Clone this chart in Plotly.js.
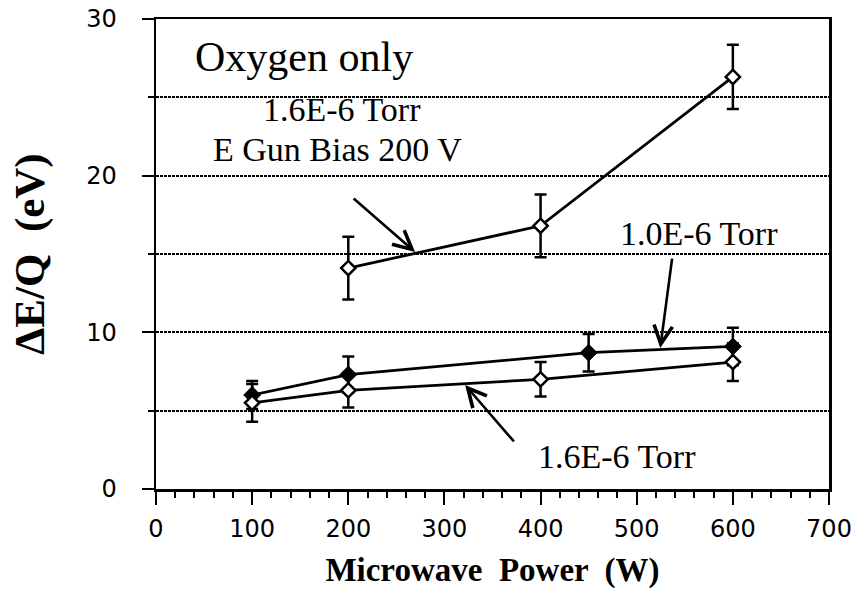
<!DOCTYPE html>
<html>
<head>
<meta charset="utf-8">
<script src="https://cdn.plot.ly/plotly-3.0.1.min.js"></script>
<style>html,body{margin:0;padding:0;background:#fff;}#chart{width:864px;height:598px;}</style>
</head>
<body>
<div id="chart"></div>
<script>
// Series: 1.6E-6 Torr, E Gun Bias 200 V (open diamonds)
const powerBias = [200, 400, 600];
const energyBias = [14.1, 16.8, 26.3];
const errBias = [2.0, 2.0, 2.05];

// Series: 1.0E-6 Torr (filled diamonds)
const power10 = [100, 200, 450, 600];
const energy10 = [6.0, 7.3, 8.7, 9.1];
const err10 = [0.9, 1.15, 1.2, 1.2];

// Series: 1.6E-6 Torr (open diamonds)
const power16 = [100, 200, 400, 600];
const energy16 = [5.5, 6.3, 7.0, 8.1];
const err16 = [1.2, 1.1, 1.1, 1.2];

const xTicks = [0, 100, 200, 300, 400, 500, 600, 700];
const yTicks = [0, 10, 20, 30];

const labelText = ["Oxygen only", "1.6E-6 Torr", "E Gun Bias 200 V", "1.0E-6 Torr", "1.6E-6 Torr"];

const serif = "Liberation Serif, Times New Roman, serif";
const sans = "DejaVu Sans, Arial, sans-serif";

function errBar(arr) {
  return {type: 'data', array: arr, visible: true, color: '#000', thickness: 2.5, width: 6};
}

const traces = [
  {x: power10, y: energy10, error_y: errBar(err10), mode: 'lines+markers', name: '1.0E-6 Torr',
   line: {color: '#000', width: 2.8},
   marker: {symbol: 'diamond', size: 13, color: '#000', line: {color: '#000', width: 1}}},
  {x: power16, y: energy16, error_y: errBar(err16), mode: 'lines+markers', name: '1.6E-6 Torr',
   line: {color: '#000', width: 2.8},
   marker: {symbol: 'diamond', size: 11, color: '#fff', line: {color: '#000', width: 2.5}}},
  {x: powerBias, y: energyBias, error_y: errBar(errBias), mode: 'lines+markers', name: '1.6E-6 Torr, E Gun Bias 200 V',
   line: {color: '#000', width: 2.8},
   marker: {symbol: 'diamond', size: 11, color: '#fff', line: {color: '#000', width: 2.5}}}
];

function label(text, x, y, size) {
  return {x: x, y: y, xref: 'x', yref: 'y', text: text, showarrow: false,
          xanchor: 'center', yanchor: 'middle', font: {family: serif, size: size, color: '#000'}};
}
function arrow(xh, yh, xt, yt) {
  return {x: xh, y: yh, ax: xt, ay: yt, xref: 'x', yref: 'y', axref: 'x', ayref: 'y',
          text: '', showarrow: true, arrowhead: 5, arrowsize: 1.4, arrowwidth: 2.6,
          arrowcolor: '#000', standoff: 0, startstandoff: 0};
}

const layout = {
  width: 864, height: 598,
  margin: {l: 156, r: 35, t: 19, b: 109},
  paper_bgcolor: '#fff', plot_bgcolor: '#fff',
  showlegend: false,
  xaxis: {
    range: [0, 700], tickvals: xTicks, ticktext: xTicks.map(String),
    ticks: 'outside', ticklen: 13, tickwidth: 2, tickcolor: '#000',
    minor: {dtick: 20, ticks: 'outside', ticklen: 6, tickwidth: 2, tickcolor: '#000', showgrid: false},
    showgrid: false, zeroline: false,
    showline: true, linewidth: 2.5, linecolor: '#000', mirror: true,
    tickfont: {family: sans, size: 24, color: '#000'},
    ticklabelstandoff: 4,
    title: {text: 'Microwave  Power  (W)', font: {family: serif, size: 33, color: '#000', weight: 'bold'}, standoff: 16}
  },
  yaxis: {
    range: [0, 30], tickvals: yTicks, ticktext: yTicks.map(String),
    ticks: 'outside', ticklen: 12, tickwidth: 2, tickcolor: '#000',
    showgrid: true, gridcolor: '#000', gridwidth: 2, griddash: '3px,1px',
    minor: {dtick: 5, ticks: 'outside', ticklen: 6, tickwidth: 2, tickcolor: '#000',
            showgrid: true, gridcolor: '#000', gridwidth: 2, griddash: '3px,1px'},
    zeroline: false,
    showline: true, linewidth: 2.5, linecolor: '#000', mirror: true,
    tickfont: {family: sans, size: 24, color: '#000'},
    ticklabelstandoff: 20,
    title: {text: '\u0394E/Q  (eV)', font: {family: serif, size: 43, color: '#000', weight: 'bold'}, standoff: 28}
  },
  annotations: [
    label(labelText[0], 154, 27.6, 42),
    label(labelText[1], 193, 24.2, 34),
    label(labelText[2], 189, 21.7, 34),
    label(labelText[3], 565, 16.3, 34),
    label(labelText[4], 479, 2.1, 34),
    arrow(269.5, 15.12, 204, 18.63),
    arrow(524.5, 9.0, 537, 14.8),
    arrow(321.5, 6.64, 373.6, 2.94)
  ]
};

Plotly.newPlot('chart', traces, layout, {staticPlot: true, displayModeBar: false});
</script>
</body>
</html>
